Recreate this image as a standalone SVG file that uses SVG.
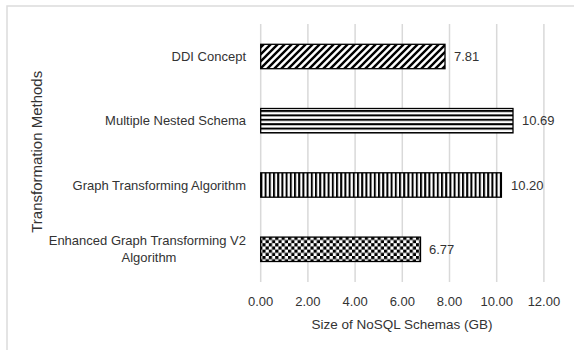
<svg xmlns="http://www.w3.org/2000/svg" width="574" height="350" viewBox="0 0 574 350">
<style>
text{font-family:"Liberation Sans",Arial,sans-serif;fill:#333;font-size:13px}
.cat{text-anchor:end}
.tick{text-anchor:middle}
.grid{stroke:#d9d9d9;stroke-width:1.5}
.bar{stroke:#000;stroke-width:1.3}
.title{font-size:13.5px;text-anchor:middle}
</style>
<defs>
<pattern id="pDiag" patternUnits="userSpaceOnUse" width="7" height="7">
<rect width="7" height="7" fill="#fff"/>
<path d="M-1,8 L8,-1 M-4.5,4.5 L4.5,-4.5 M2.5,11.5 L11.5,2.5" stroke="#000" stroke-width="2.4"/>
</pattern>
<pattern id="pHorz" patternUnits="userSpaceOnUse" width="8" height="4.4">
<rect width="8" height="4.4" fill="#fff"/>
<rect y="0" width="8" height="2" fill="#000"/>
</pattern>
<pattern id="pVert" patternUnits="userSpaceOnUse" width="4.2" height="8">
<rect width="4.2" height="8" fill="#fff"/>
<rect x="0" width="2" height="8" fill="#000"/>
</pattern>
<pattern id="pCheck" patternUnits="userSpaceOnUse" width="6.4" height="6.4">
<rect width="6.4" height="6.4" fill="#fff"/>
<rect width="3.2" height="3.2" fill="#000"/>
<rect x="3.2" y="3.2" width="3.2" height="3.2" fill="#000"/>
</pattern>
</defs>
<rect width="574" height="350" fill="#fff"/>
<rect x="7" y="6" width="620" height="400" fill="none" stroke="#dcdcdc" stroke-width="1.5"/>
<g id="gridlines">
<line class="grid" x1="260.7" y1="24" x2="260.7" y2="282"/>
<line class="grid" x1="307.9" y1="24" x2="307.9" y2="282"/>
<line class="grid" x1="355.1" y1="24" x2="355.1" y2="282"/>
<line class="grid" x1="402.3" y1="24" x2="402.3" y2="282"/>
<line class="grid" x1="449.5" y1="24" x2="449.5" y2="282"/>
<line class="grid" x1="496.7" y1="24" x2="496.7" y2="282"/>
<line class="grid" x1="543.9" y1="24" x2="543.9" y2="282"/>
</g>
<g id="bar-ddi">
<rect class="bar" x="260.7" y="44.3" width="184.3" height="24.4" fill="url(#pDiag)"/>
<text class="cat" x="246" y="61.2">DDI Concept</text>
<text x="454" y="61.2">7.81</text>
</g>
<g id="bar-mns">
<rect class="bar" x="260.7" y="108.5" width="252.3" height="24.4" fill="url(#pHorz)"/>
<text class="cat" x="246" y="125.4">Multiple Nested Schema</text>
<text x="522" y="125.4">10.69</text>
</g>
<g id="bar-gta">
<rect class="bar" x="260.7" y="172.8" width="240.7" height="24.4" fill="url(#pVert)"/>
<text class="cat" x="246" y="189.7">Graph Transforming Algorithm</text>
<text x="511" y="189.7">10.20</text>
</g>
<g id="bar-egt">
<rect class="bar" x="260.7" y="237.1" width="159.8" height="24.4" fill="url(#pCheck)"/>
<text class="cat" x="246" y="244.8">Enhanced Graph Transforming V2</text>
<text class="tick" x="149" y="262">Algorithm</text>
<text x="429" y="254">6.77</text>
</g>
<g id="x-axis">
<text class="tick" x="260.7" y="305.6">0.00</text>
<text class="tick" x="307.9" y="305.6">2.00</text>
<text class="tick" x="355.1" y="305.6">4.00</text>
<text class="tick" x="402.3" y="305.6">6.00</text>
<text class="tick" x="449.5" y="305.6">8.00</text>
<text class="tick" x="496.7" y="305.6">10.00</text>
<text class="tick" x="543.9" y="305.6">12.00</text>
<text class="title" x="402" y="329">Size of NoSQL Schemas (GB)</text>
</g>
<g id="y-axis">
<text class="title" style="font-size:15px" transform="translate(42,151.8) rotate(-90)" x="0" y="0">Transformation Methods</text>
</g>
</svg>
